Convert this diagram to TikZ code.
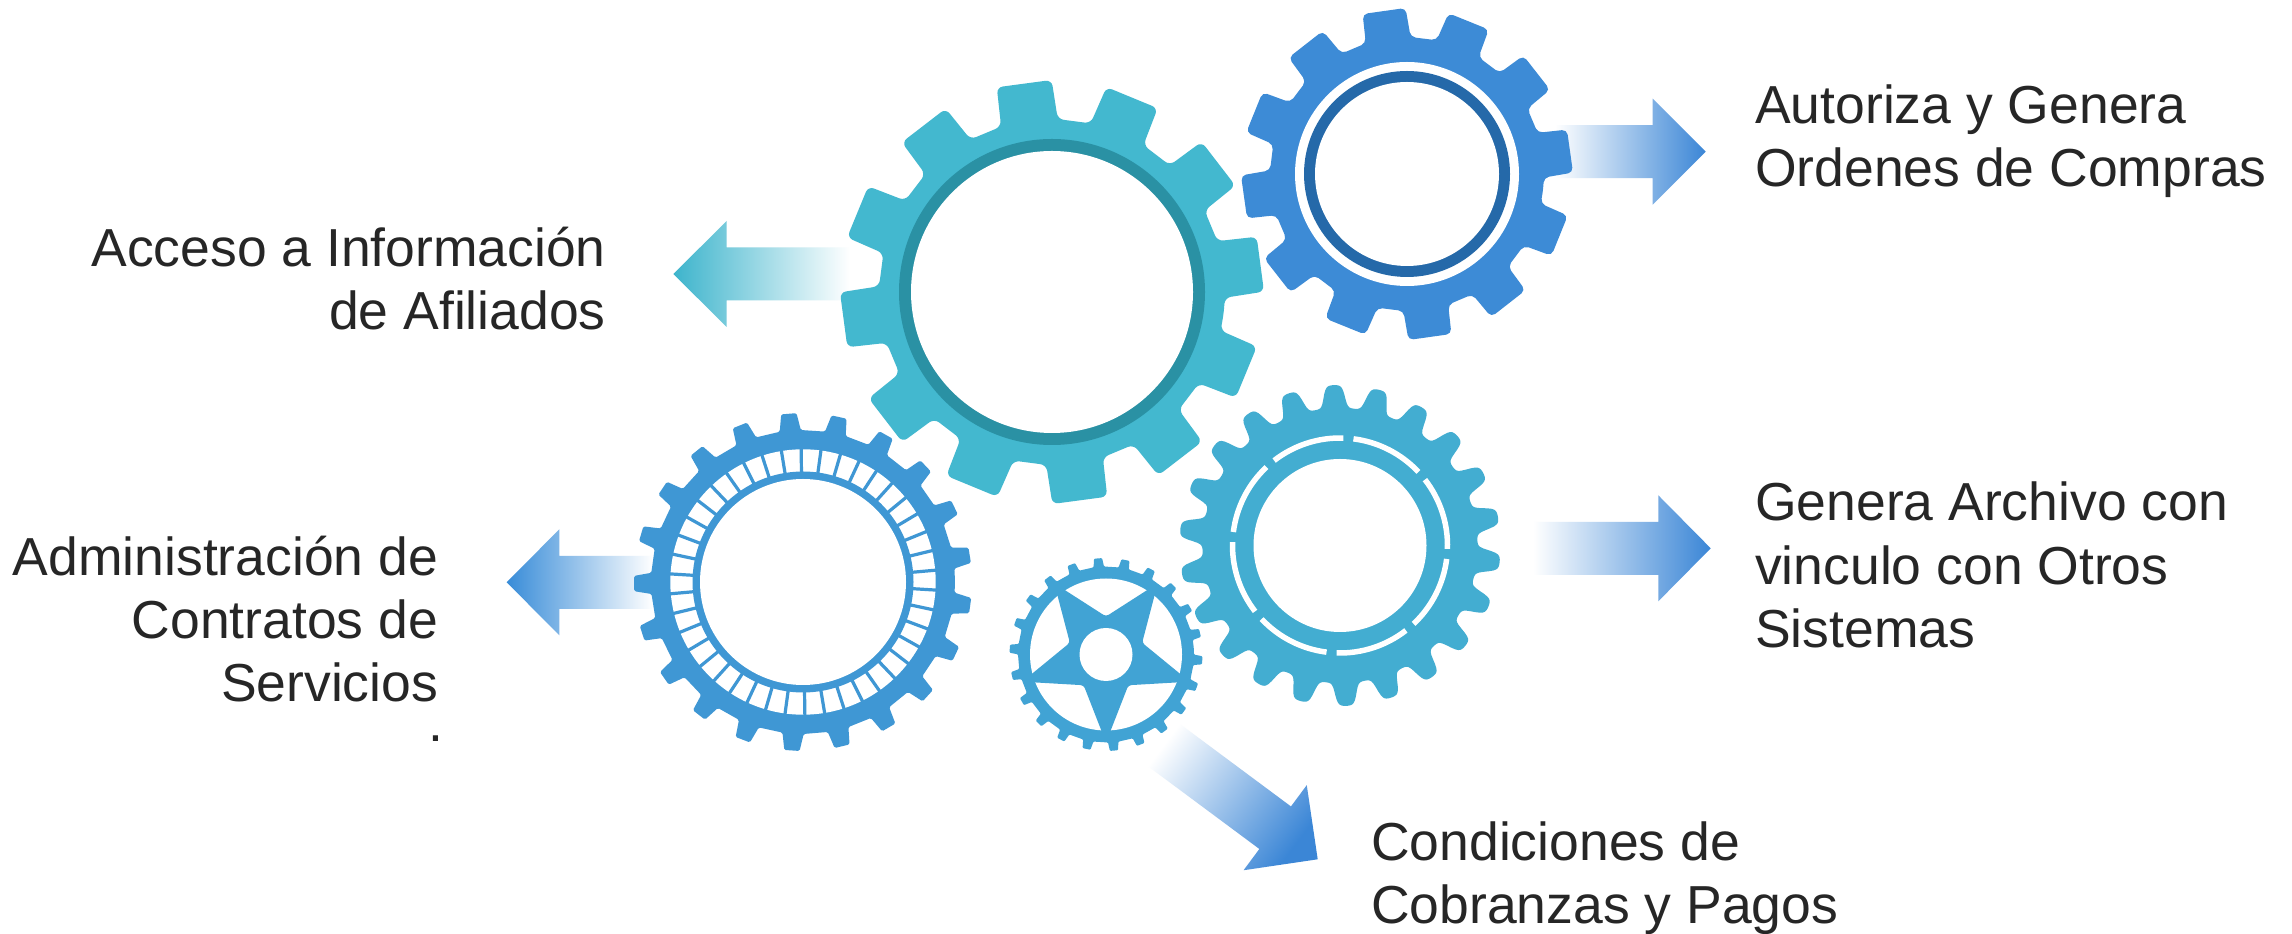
\documentclass[tikz,border=0pt]{standalone}
\usepackage{fontspec}
\setmainfont{Liberation Sans}
\usetikzlibrary{calc}

\definecolor{gearcyan}{HTML}{43B8CF}
\definecolor{ringteal}{HTML}{2A91A4}
\definecolor{gearblue}{HTML}{3D8BD6}
\definecolor{ringblue}{HTML}{2569A9}
\definecolor{gearmid}{HTML}{3F97D4}
\definecolor{gearsky}{HTML}{43ADD1}
\definecolor{gearstar}{HTML}{41A3D4}
\definecolor{arrowblue}{HTML}{3B86D6}
\definecolor{arrowcyan}{HTML}{3DB4CC}
\definecolor{labelgray}{HTML}{262626}

\tikzset{
  labeltext/.style={text=labelgray, inner sep=0pt, font=\fontsize{53.5}{63.3}\selectfont},
  outarrow/.style={left color=white, right color=arrowblue},
}

\begin{document}
\begin{tikzpicture}[x=1pt, y=1pt]
    \fill[white] (0,0) rectangle (2292,934);
    \useasboundingbox (0,0) rectangle (2292,934);

    % arrows, drawn first so that the gears cover their tails
    \coordinate (tipAutoriza) at (1705.7,782.3);
    \coordinate (tipAcceso) at (673.3,660);
    \coordinate (tipContratos) at (506.7,351.7);
    \coordinate (tipArchivo) at (1710.7,385.7);
    \coordinate (tipCobranzas) at (1317.7,74.7);

    \shade[outarrow] (tipAutoriza) -- ++(-53,53) -- ++(0,-26.5) -- ++(-97.7,0) -- ++(0,-53) -- ++(97.7,0) -- ++(0,-26.5) -- cycle;
    \shade[left color=arrowcyan, right color=white] (tipAcceso) -- ++(53.4,53) -- ++(0,-26.5) -- ++(123.3,0) -- ++(0,-53) -- ++(-123.3,0) -- ++(0,-26.5) -- cycle;
    \shade[left color=arrowblue!95!cyan, right color=white] (tipContratos) -- ++(52.6,53) -- ++(0,-26.5) -- ++(93.7,0) -- ++(0,-53) -- ++(-93.7,0) -- ++(0,-26.5) -- cycle;
    \shade[outarrow] (tipArchivo) -- ++(-52.4,53) -- ++(0,-26.5) -- ++(-125.3,0) -- ++(0,-53) -- ++(125.3,0) -- ++(0,-26.5) -- cycle;
    \shade[outarrow, shading angle=53.4] (tipCobranzas)
        -- ($(tipCobranzas)+(143.4:53)+(53.4:53)$)
        -- ($(tipCobranzas)+(143.4:53)+(53.4:26.5)$)
        -- ($(tipCobranzas)+(143.4:200)+(53.4:26.5)$)
        -- ($(tipCobranzas)+(143.4:200)+(-126.6:26.5)$)
        -- ($(tipCobranzas)+(143.4:53)+(-126.6:26.5)$)
        -- ($(tipCobranzas)+(143.4:53)+(-126.6:53)$) -- cycle;

    % big cyan gear
    \begin{scope}[shift={(1052,642)}]
        \fill[gearcyan, rounded corners=6pt] (-7.4:173)
            \foreach \i in {0,...,11}{ -- ({7.6+30*\i-9.5}:173) -- ({7.6+30*\i-7.5}:212) -- ({7.6+30*\i+7.5}:212) -- ({7.6+30*\i+9.5}:173) } -- cycle;
        \fill[ringteal] (0,0) circle (153);
        \fill[white] (0,0) circle (141);
    \end{scope}

    % blue gear, top right
    \begin{scope}[shift={(1407,760)}]
        \fill[gearblue, rounded corners=5pt] (-7:137)
            \foreach \i in {0,...,11}{ -- ({8+30*\i-9.5}:137) -- ({8+30*\i-7.5}:166) -- ({8+30*\i+7.5}:166) -- ({8+30*\i+9.5}:137) } -- cycle;
        \fill[white] (0,0) circle (112);
        \fill[ringblue] (0,0) circle (103);
        \fill[white] (0,0) circle (92);
    \end{scope}

    % slotted gear, left
    \begin{scope}[shift={(803,352)}]
        \fill[gearmid, rounded corners=1.5pt] ({9.1-8.57}:152)
            \foreach \i in {0,...,20}{ -- ({9.1+360/21*\i-4}:152) -- ({9.1+360/21*\i-2.6}:169) -- ({9.1+360/21*\i+2.6}:169) -- ({9.1+360/21*\i+4}:152) } -- cycle;
        \fill[white] (0,0) circle (132.7);
        \fill[gearmid] (0,0) circle (110.5);
        \fill[white] (0,0) circle (103);
        \foreach \k in {0,...,41}
            \draw[gearmid, line width=3.2pt] ({90.8+360/42*\k}:109) -- ({90.8+360/42*\k}:134);
    \end{scope}

    % scalloped gear, right
    \begin{scope}[shift={(1340,388.5)}]
        \fill[gearsky] plot[domain=0:360, samples=661, variable=\t]
            (\t:{149+11.5*tanh(2*cos(22*(\t-10.4)))/tanh(2)}) -- cycle;
        \foreach \k in {0,...,7}
            \draw[white, line width=5.5pt] ({-4.5+45*\k+2.7}:107.5) arc[start angle={-4.5+45*\k+2.7}, end angle={-4.5+45*\k+42.3}, radius=107.5];
        \fill[white] (0,0) circle (86.5);
    \end{scope}

    % star gear
    \begin{scope}[shift={(1106,279.5)}]
        \fill[gearstar, rounded corners=1pt] ({12.9-8.18}:88)
            \foreach \i in {0,...,21}{ -- ({12.9+360/22*\i-3.4}:88) -- ({12.9+360/22*\i-2.4}:96.5) -- ({12.9+360/22*\i+2.4}:96.5) -- ({12.9+360/22*\i+3.4}:88) } -- cycle;
        \fill[white] (0,0) circle (76);
        \fill[gearstar, rounded corners=3pt] (-126:38)
            \foreach \k in {0,...,3}{ -- ({-90+72*\k}:88) -- ({-54+72*\k}:38) } -- (198:88) -- cycle;
        \fill[white] (0,0) circle (26.5);
    \end{scope}

    % labels (base anchor sits on the last line)
    \node[labeltext, align=left, anchor=base west] (autoriza) at (1755,747.3) {Autoriza y Genera\\Ordenes de Compras};
    \node[labeltext, align=right, anchor=base east] (acceso) at (606,604) {Acceso a Información\\de Afiliados};
    \node[labeltext, align=right, anchor=base east] (contratos) at (438.3,232.3) {Administración de\\Contratos de\\Servicios};
    \node[labeltext, anchor=base east] (punto) at (443.3,192.3) {.};
    \node[labeltext, align=left, anchor=base west] (archivo) at (1755,286.4) {Genera Archivo con\\vinculo con Otros\\Sistemas};
    \node[labeltext, align=left, anchor=base west] (cobranzas) at (1371,10) {Condiciones de\\Cobranzas y Pagos};
\end{tikzpicture}
\end{document}
